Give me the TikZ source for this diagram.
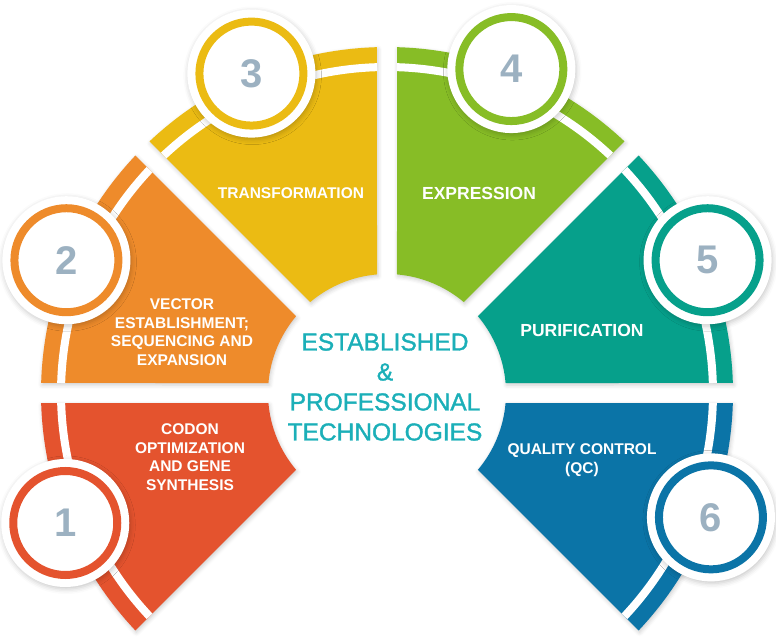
\documentclass[tikz,border=0pt]{standalone}
\usepackage{fontspec}
\setmainfont{Liberation Sans}
\newfontfamily\hubfont{Liberation Sans}[FakeBold=1.4]
\usetikzlibrary{shadows.blur}
\definecolor{codonred}{HTML}{E4532E}
\definecolor{vectororange}{HTML}{EE8B2B}
\definecolor{transyellow}{HTML}{EBBB13}
\definecolor{exprgreen}{HTML}{87BD26}
\definecolor{purifteal}{HTML}{06A08B}
\definecolor{qcblue}{HTML}{0B74A7}
\definecolor{hubcyan}{HTML}{1BAFB8}
\definecolor{numgray}{HTML}{9CB1C1}
\definecolor{discedge}{HTML}{D3DEE9}
\pgfdeclareradialshading{discshade}{\pgfpoint{0bp}{0bp}}{color(0bp)=(white); color(32bp)=(white); color(46bp)=(discedge); color(50bp)=(discedge)}
\newcommand{\gapin}{4.82}
\newcommand{\gapout}{1.66}
\newcommand{\gapstripe}{1.76}
\tikzset{
    steptext/.style={
           text=white,
           font=\bfseries\fontsize{15.5}{18.6}\selectfont,
           align=center,
           inner sep=0pt,
           },
    discback/.style={
           circle,
           fill=white,
           minimum size=128,
           inner sep=0pt,
           blur shadow={shadow xshift=1pt,shadow yshift=-2pt,shadow blur radius=5pt,shadow opacity=22},
           },
    numdisc/.style={
           circle,
           minimum size=104,
           line width=8,
           shade,
           shading=discshade,
           text=numgray,
           font=\bfseries\fontsize{40}{40}\selectfont,
           inner sep=0pt,
           },
}

\begin{document}
\begin{tikzpicture}[x=1pt,y=1pt]
\useasboundingbox (-387,-248) rectangle (389,393);
% the six ring pieces
\foreach \a/\col in {180/codonred,135/vectororange,90/transyellow,45/exprgreen,0/purifteal,-45/qcblue}{
  \fill[\col,blur shadow={shadow xshift=1pt,shadow yshift=-2pt,shadow blur radius=4pt,shadow opacity=20}]
    (\a+\gapout:346) arc[start angle=\a+\gapout,end angle=\a+45-\gapout,radius=346]
    -- (\a+45-\gapin:119) arc[start angle=\a+45-\gapin,end angle=\a+\gapin,radius=119] -- cycle;
  \draw[white,line width=8] (\a+\gapstripe:326) arc[start angle=\a+\gapstripe,end angle=\a+45-\gapstripe,radius=326];
}
% numbered discs
\foreach \n/\ang/\col in {1/202/codonred,2/157.5/vectororange,3/113/transyellow,4/69/exprgreen,5/22.5/purifteal,6/-21/qcblue}{
  \node[discback](back\n) at (\ang:347){};
  \node[numdisc,draw=\col](num\n) at (back\n){\n};
}
\node[steptext](codon) at (-197,-64){CODON\\OPTIMIZATION\\AND GENE\\SYNTHESIS};
\node[steptext](vector) at (-205,61){VECTOR\\ESTABLISHMENT;\\SEQUENCING AND\\EXPANSION};
\node[steptext](transf) at (-96,200){TRANSFORMATION};
\node[steptext,font=\bfseries\fontsize{17.5}{21}\selectfont](expr) at (92,200){EXPRESSION};
\node[steptext,font=\bfseries\fontsize{17.5}{21}\selectfont](purif) at (195,63){PURIFICATION};
\node[steptext](qc) at (195,-67){QUALITY CONTROL\\(QC)};
\node[align=center,text=hubcyan,font=\hubfont\fontsize{24.5}{30}\selectfont,inner sep=0pt](hub) at (-2,6){ESTABLISHED\\\&\\PROFESSIONAL\\TECHNOLOGIES};
\end{tikzpicture}
\end{document}
